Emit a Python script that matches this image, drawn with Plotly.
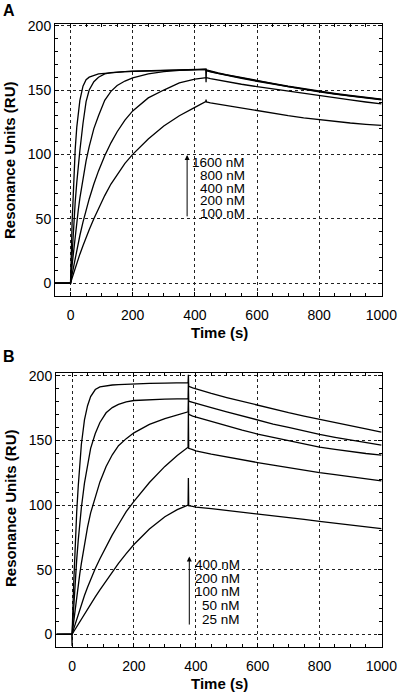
import plotly.graph_objects as go

# ---------------- Panel A data ----------------
TIME_A = [-50, 0, 5, 10, 15, 20, 25, 30, 40, 50,
          60, 75, 90, 110, 130, 150, 175, 200, 250, 300,
          350, 400, 435, 436, 437, 450, 475, 500, 550, 600,
          650, 700, 750, 800, 850, 900, 950, 1000]
A_1600 = [0, 0, 47, 80, 104, 121, 133, 142, 153, 158,
          160, 161.5, 162.5, 163, 163.5, 164, 164.3, 164.6, 165, 165.3,
          165.7, 166, 166.3, 166.3, 165.6, 164.7, 163.3, 162, 159.6, 157.3,
          155.2, 153, 151, 149.1, 147.4, 145.8, 144.3, 143]
A_800 = [0, 0, 22, 45, 63, 78, 92, 103, 124, 141,
         150, 156.5, 160, 162.5, 163.5, 164, 164.3, 164.5, 164.9, 165.2,
         165.5, 165.8, 166, 166, 165.3, 164.4, 163, 161.7, 159.3, 157,
         154.9, 152.7, 150.7, 148.8, 147.1, 145.5, 144, 142.7]
A_400 = [0, 0, 14, 26, 37, 48, 57, 66, 82, 95,
         106, 120, 130, 142, 149, 153.5, 157, 159.5, 162.5, 164.3,
         165.3, 165.8, 166, 156, 165, 164.1, 162.7, 161.4, 159, 156.7,
         154.6, 152.4, 150.4, 148.5, 146.8, 145.2, 143.7, 142.4]
A_200 = [0, 0, 6.9, 13.4, 19.7, 25.7, 31.5, 37, 47.4, 56.8,
         65.4, 77, 87.2, 98.9, 109, 117.6, 126.7, 133.8, 143.9, 150,
         155.5, 158.5, 160, 160, 159.6, 158.9, 157.7, 156.6, 154.5, 152.6,
         150.8, 149, 147.2, 145.6, 143.9, 142.3, 140.7, 139.2]
A_100 = [0, 0, 4, 8, 12, 15.5, 19, 22.5, 29, 35.5,
         41.5, 50, 58, 68, 77, 84.5, 93, 100, 112, 122,
         130, 136.5, 141, 142.5, 140.8, 140.1, 139.1, 138.2, 135.8, 133.6,
         131.8, 130.1, 128.4, 126.9, 125.6, 124.4, 123.4, 122.5]
LABELS_A = ["1600 nM", "800 nM", "400 nM", "200 nM", "100 nM"]

# ---------------- Panel B data ----------------
TIME_B = [-50, -1, 0, 0.5, 5, 10, 15, 20, 25, 30,
          40, 50, 60, 75, 90, 110, 130, 150, 175, 200,
          250, 300, 340, 375, 376, 377, 390, 400, 450, 500,
          550, 600, 650, 700, 750, 800, 850, 900, 950, 1000]
B_400 = [0, 0, -9, 3, 38, 70, 95, 115, 133, 147,
         166, 177, 184, 189.5, 191.5, 192.5, 193, 193.3, 193.6, 193.9,
         194.2, 194.5, 194.7, 194.8, 201, 192, 190.8, 190, 186.5, 183.3,
         180.3, 177, 174.3, 171.6, 169, 166.4, 164, 161.5, 159, 156.6]
B_200 = [0, 0, 0, 2.3, 22, 41, 58, 73, 86, 98,
         117, 132, 144, 155.5, 164, 171.5, 175.5, 178, 180, 181,
         181.8, 182.1, 182.3, 182.4, 195, 180.5, 179.6, 179, 175.5, 172.2,
         169, 165.5, 162.8, 160.2, 157.4, 154.8, 152.5, 150.3, 148.3, 146.4]
B_100 = [0, 0, 0, 1, 10, 20, 30, 39, 47, 55,
         70, 83, 94, 107, 118, 130, 139, 146, 151.5, 156,
         162.5, 167, 170, 172.2, 183, 170.3, 169, 168.3, 164.6, 161.5,
         158, 155, 152.4, 150, 147.4, 145, 143.2, 141.5, 140, 138.7]
B_50 = [0, 0, 0, 0.4, 4, 8, 12, 16, 19.5, 23,
        30, 36.5, 42.5, 51, 58.5, 68, 77, 85, 95, 103,
        117.5, 130, 138.5, 144.8, 172, 144, 143, 142, 139.5, 137.2,
        135, 133, 131, 129, 127, 125.2, 123.6, 122, 120.4, 118.8]
B_25 = [0, 0, 0, 0.2, 2, 4, 6, 8, 10, 12,
        16, 20, 23.5, 29, 34.5, 41.5, 48.5, 55, 62.5, 69.5,
        81.5, 91, 96.5, 100, 121, 99.5, 99, 98.5, 97.3, 96,
        94.6, 93.2, 91.7, 90.3, 89, 87.5, 86, 84.6, 83.2, 81.8]
LABELS_B = ["400 nM", "200 nM", "100 nM", "50 nM", "25 nM"]

X_TICKS = [0, 200, 400, 600, 800, 1000]
Y_TICKS = [0, 50, 100, 150, 200]

W, H = 400, 696
FONT = "Liberation Sans, Arial, Helvetica, sans-serif"

fig = go.Figure()
line = dict(color="black", width=1.3)
for ys in [A_1600, A_800, A_400, A_200, A_100]:
    fig.add_trace(go.Scatter(x=TIME_A, y=ys, mode="lines", line=line,
                             xaxis="x", yaxis="y", showlegend=False, hoverinfo="skip"))
for ys in [B_400, B_200, B_100, B_50, B_25]:
    fig.add_trace(go.Scatter(x=TIME_B, y=ys, mode="lines", line=line,
                             xaxis="x2", yaxis="y2", showlegend=False, hoverinfo="skip"))


def ax_common():
    return dict(showline=True, linecolor="black", linewidth=1, mirror="ticks",
                ticks="inside", ticklen=4, tickcolor="black", automargin=False,
                showgrid=True, gridcolor="#222", griddash="dot", gridwidth=1,
                zeroline=False, tickfont=dict(family=FONT, size=14, color="black"))


xa = ax_common()
xa.update(tickvals=X_TICKS, ticklabelstandoff=6,
          minor=dict(dtick=50, tick0=0, ticks="inside", ticklen=3,
                     tickcolor="black", showgrid=False))
ya = ax_common()
ya.update(tickvals=Y_TICKS,
          minor=dict(dtick=10, tick0=0, ticks="inside", ticklen=3,
                     tickcolor="black", showgrid=False))

def py(p):
    return 1 - p / H

fig.update_layout(
    width=W, height=H, margin=dict(l=0, r=0, t=0, b=0, autoexpand=False),
    paper_bgcolor="white", plot_bgcolor="white",
    xaxis=dict(xa, domain=[55 / W, 382 / W], range=[-50, 1002], anchor="y"),
    yaxis=dict(ya, domain=[py(296), py(24)], range=[-10, 201.3], anchor="x"),
    xaxis2=dict(xa, domain=[56 / W, 382 / W], range=[-52, 1002], anchor="y2"),
    yaxis2=dict(ya, domain=[py(647), py(373)], range=[-9.8, 202.3], anchor="x2"),
    font=dict(family=FONT, color="black"),
)

C = dict(xanchor="center", yanchor="middle", showarrow=False)
ann = []
# panel letters
ann.append(dict(C, x=9 / W, y=py(10), xref="paper", yref="paper", text="<b>A</b>",
                font=dict(size=16)))
ann.append(dict(C, x=9 / W, y=py(356), xref="paper", yref="paper", text="<b>B</b>",
                font=dict(size=16)))
# axis titles
for yc in [160, 508]:
    ann.append(dict(C, x=10 / W, y=py(yc), xref="paper", yref="paper",
                    text="<b>Resonance Units (RU)</b>", textangle=-90,
                    font=dict(size=15)))
for yc in [332, 683]:
    ann.append(dict(C, x=219 / W, y=py(yc), xref="paper", yref="paper",
                    text="<b>Time (s)</b>", font=dict(size=15)))

# concentration labels and arrows
ann.append(dict(x=375, y=99.6, ax=375, ay=50.7, xref="x", yref="y", axref="x", ayref="y",
                text="", showarrow=True, arrowhead=2, arrowsize=1, arrowwidth=1,
                arrowcolor="black"))
for lab, yv in zip(LABELS_A, [93.6, 83.3, 73.4, 63.9, 54.2]):
    ann.append(dict(x=569, y=yv, xref="x", yref="y", text=lab, showarrow=False,
                    xanchor="right", yanchor="middle", font=dict(size=13.5)))
ann.append(dict(x=379, y=60.2, ax=379, ay=6.4, xref="x2", yref="y2", axref="x2", ayref="y2",
                text="", showarrow=True, arrowhead=2, arrowsize=1, arrowwidth=1,
                arrowcolor="black"))
for lab, yv in zip(LABELS_B, [53.7, 42.9, 33.0, 22.2, 11.6]):
    ann.append(dict(x=548, y=yv, xref="x2", yref="y2", text=lab, showarrow=False,
                    xanchor="right", yanchor="middle", font=dict(size=13.5)))

fig.update_layout(annotations=ann)
fig.write_html("out.html", config={"displayModeBar": False},
               post_script="document.body.style.margin='0';document.body.style.overflow='hidden';")
